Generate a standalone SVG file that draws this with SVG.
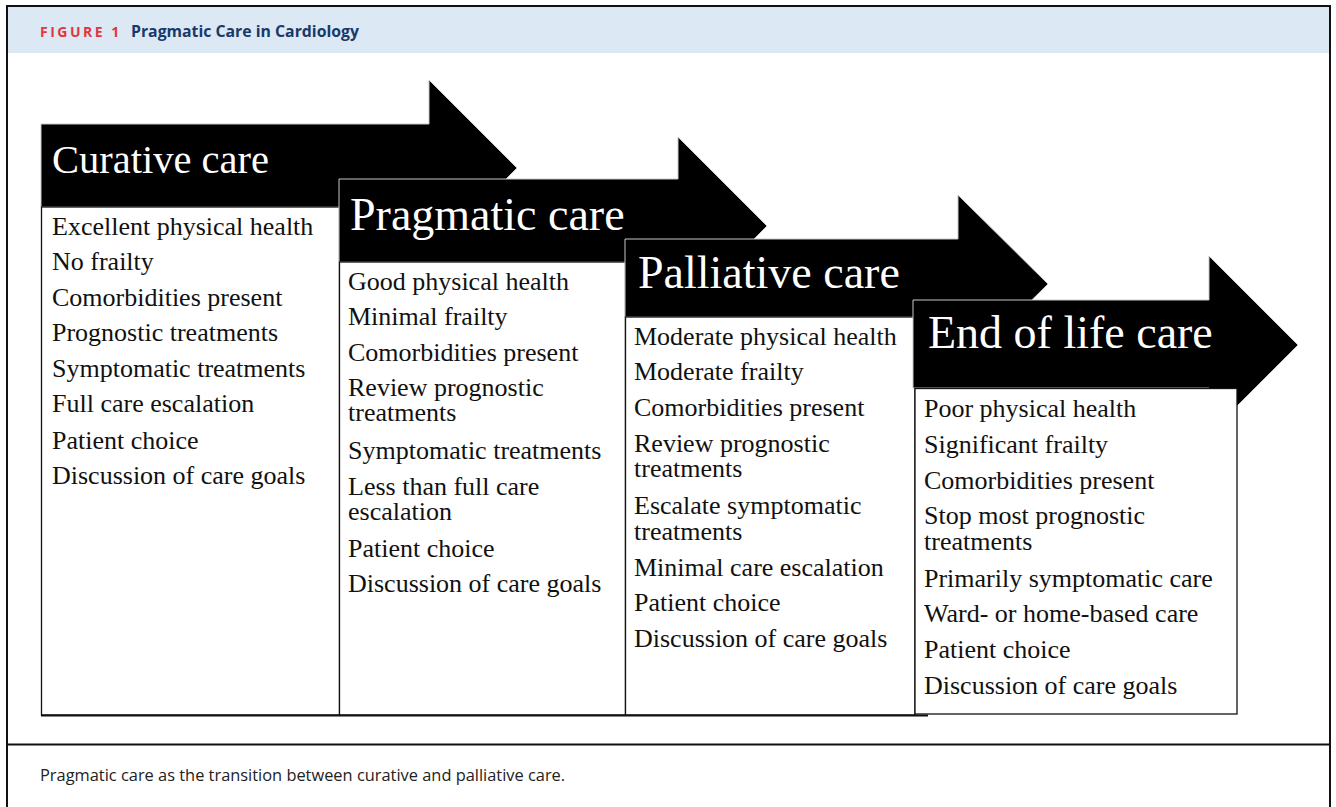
<svg xmlns="http://www.w3.org/2000/svg" width="1336" height="807" viewBox="0 0 1336 807">
<style>
.arrow{fill:#000;stroke:#c8c8c8;stroke-width:1}
.box{fill:#fff;stroke:#111;stroke-width:1.3}
.title{font-family:"Liberation Serif","Times New Roman",serif;fill:#fff}
.item{font-family:"Liberation Serif","Times New Roman",serif;font-size:26px;fill:#111}
.hdr{font-family:"Open Sans","Liberation Sans",sans-serif;font-weight:700}
.cap{font-family:"Open Sans","Liberation Sans",sans-serif;font-size:16.4px;fill:#222}
</style>
<rect x="0" y="0" width="1336" height="807" fill="#fff"/>
<g id="frame">
<rect x="7" y="7" width="1323" height="46" fill="#dde8f5"/>
<rect x="7" y="6" width="1323" height="820" fill="none" stroke="#111" stroke-width="2"/>
<line x1="7" y1="744.5" x2="1330" y2="744.5" stroke="#111" stroke-width="2"/>
<text class="hdr" x="40" y="37" font-size="14" fill="#e2363c" letter-spacing="2.5">FIGURE 1</text>
<text class="hdr" x="131" y="37" font-size="15.8" fill="#173a6a">Pragmatic Care in Cardiology</text>
<text class="cap" x="40" y="781">Pragmatic care as the transition between curative and palliative care.</text>
</g>
<g id="curative">
<polygon class="arrow" points="41,124 429,124 429,80 517,168 429,256 429,207 41,207"/>
<rect class="box" x="41.5" y="207" width="298" height="508"/>
<text class="title" x="52" y="173" font-size="40.5">Curative care</text>
<g class="item">
<text x="52" y="235">Excellent physical health</text>
<text x="52" y="270">No frailty</text>
<text x="52" y="306">Comorbidities present</text>
<text x="52" y="341">Prognostic treatments</text>
<text x="52" y="377">Symptomatic treatments</text>
<text x="52" y="412">Full care escalation</text>
<text x="52" y="449">Patient choice</text>
<text x="52" y="484">Discussion of care goals</text>
</g>
</g>
<g id="pragmatic">
<polygon class="arrow" points="339,179 678,179 678,137 767,226 678,315 678,262 339,262"/>
<rect class="box" x="339.5" y="262" width="286" height="453"/>
<text class="title" x="350" y="230" font-size="46">Pragmatic care</text>
<g class="item">
<text x="348" y="290">Good physical health</text>
<text x="348" y="325">Minimal frailty</text>
<text x="348" y="361">Comorbidities present</text>
<text x="348" y="396">Review prognostic</text>
<text x="348" y="421">treatments</text>
<text x="348" y="459">Symptomatic treatments</text>
<text x="348" y="495">Less than full care</text>
<text x="348" y="520">escalation</text>
<text x="348" y="557">Patient choice</text>
<text x="348" y="592">Discussion of care goals</text>
</g>
</g>
<g id="palliative">
<polygon class="arrow" points="625,239 958,239 958,195 1048,284 958,373 958,317 625,317"/>
<rect class="box" x="625.5" y="317" width="289.5" height="398"/>
<text class="title" x="638" y="288" font-size="46">Palliative care</text>
<g class="item">
<text x="634" y="345">Moderate physical health</text>
<text x="634" y="380">Moderate frailty</text>
<text x="634" y="416">Comorbidities present</text>
<text x="634" y="452">Review prognostic</text>
<text x="634" y="477">treatments</text>
<text x="634" y="514">Escalate symptomatic</text>
<text x="634" y="540">treatments</text>
<text x="634" y="576">Minimal care escalation</text>
<text x="634" y="611">Patient choice</text>
<text x="634" y="647">Discussion of care goals</text>
</g>
</g>
<g id="endoflife">
<polygon class="arrow" points="913,300 1209,300 1209,256 1298,345 1209,434 1209,388 913,388"/>
<rect class="box" x="915" y="388.5" width="322" height="325.5"/>
<text class="title" x="928" y="348" font-size="46">End of life care</text>
<g class="item">
<text x="924" y="417">Poor physical health</text>
<text x="924" y="453">Significant frailty</text>
<text x="924" y="489">Comorbidities present</text>
<text x="924" y="524">Stop most prognostic</text>
<text x="924" y="550">treatments</text>
<text x="924" y="587">Primarily symptomatic care</text>
<text x="924" y="622">Ward- or home-based care</text>
<text x="924" y="658">Patient choice</text>
<text x="924" y="694">Discussion of care goals</text>
</g>
</g>
<g id="connectors">
<line x1="41" y1="715.5" x2="928" y2="715.5" stroke="#111" stroke-width="1.8"/>
</g>
</svg>
